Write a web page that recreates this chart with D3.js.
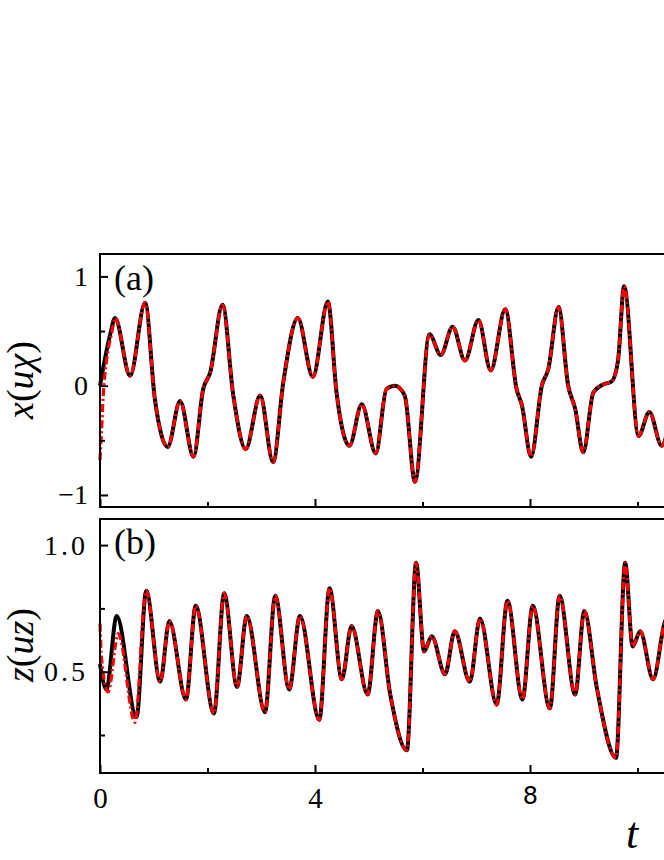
<!DOCTYPE html>
<html><head><meta charset="utf-8">
<script src="https://cdn.jsdelivr.net/npm/d3@7"></script>
<style>body{margin:0;background:#fff}svg{display:block}
text{font-family:"Liberation Serif","DejaVu Serif",serif}
.sans{font-family:"DejaVu Sans",sans-serif}</style>
</head><body>
<svg id="c" width="664" height="860"></svg>
<script>
// ---- data ----
const tX = [0, 0.09, 0.19, 0.28, 0.56, 0.84, 1.02, 1.26, 1.49, 1.74, 1.92, 2.05, 2.28, 2.48, 2.71, 2.98, 3.22, 3.41, 3.68, 3.96, 4.24, 4.40, 4.64, 4.87, 5.13, 5.33, 5.49, 5.67, 5.86, 6.13, 6.34, 6.56, 6.79, 7.04, 7.27, 7.54, 7.75, 7.85, 8.02, 8.22, 8.34, 8.53, 8.71, 8.84, 8.99, 9.18, 9.36, 9.52, 9.64, 9.75, 10.02, 10.22, 10.45, 10.6];
const xBlack = [0, 0.24, 0.47, 0.62, 0.09, 0.76, -0.12, -0.56, -0.14, -0.65, -0.03, 0.12, 0.74, -0.09, -0.58, -0.09, -0.70, 0.03, 0.62, 0.08, 0.77, -0.06, -0.55, -0.17, -0.62, -0.03, 0.0, -0.09, -0.88, 0.47, 0.28, 0.54, 0.23, 0.60, 0.14, 0.70, -0.03, -0.18, -0.65, 0.0, 0.15, 0.72, 0.0, -0.21, -0.61, -0.06, 0.01, 0.04, 0.24, 0.91, -0.46, -0.24, -0.55, -0.3];
const tXRedStart = [0, 0.03, 0.06, 0.12, 0.22];
const xRedStart = [-0.68, -0.4, -0.09, 0.22, 0.49];
const xRedJoin = 0.28;

const tZ = [0, 0.12, 0.31, 0.68, 0.86, 1.12, 1.29, 1.60, 1.78, 2.12, 2.31, 2.55, 2.73, 3.07, 3.26, 3.52, 3.72, 4.08, 4.27, 4.50, 4.68, 4.98, 5.17, 5.40, 5.71, 5.88, 6.03, 6.17, 6.42, 6.60, 6.88, 7.07, 7.38, 7.58, 7.86, 8.05, 8.37, 8.55, 8.84, 9.01, 9.24, 9.60, 9.77, 9.91, 10.05, 10.29, 10.5, 10.65];
const zBlack = [0.53, 0.43, 0.72, 0.32, 0.82, 0.46, 0.70, 0.39, 0.76, 0.335, 0.81, 0.44, 0.72, 0.34, 0.80, 0.43, 0.72, 0.31, 0.83, 0.47, 0.68, 0.41, 0.74, 0.41, 0.19, 0.93, 0.58, 0.64, 0.49, 0.66, 0.46, 0.71, 0.37, 0.78, 0.39, 0.76, 0.355, 0.80, 0.41, 0.74, 0.44, 0.16, 0.93, 0.60, 0.66, 0.47, 0.69, 0.75];
const tZRedStart = [0, 0.03, 0.15, 0.34, 0.65];
const zRedStart = [0.69, 0.55, 0.42, 0.65, 0.30];
const zRedJoin = 0.86;

const xMajorTicks = [0, 4, 8];
const xMinorTicks = [2, 6, 10];
const aMajor = [-1, 0, 1], aMinor = [-0.5, 0.5];
const bMajor = [0.5, 1.0], bMinor = [0.25, 0.75];

// ---- drawing ----
const svg = d3.select("#c");
const x = d3.scaleLinear().domain([0, 12]).range([100, 745]);
const yA = d3.scaleLinear().domain([-1.11, 1.205]).range([507, 254]);
const yB = d3.scaleLinear().domain([0.1, 1.103]).range([773, 519]);

function seriesPts(ts, vs) { return ts.map((t, i) => [t, vs[i]]); }
const blackA = seriesPts(tX, xBlack);
const redA = seriesPts(tXRedStart, xRedStart).concat(blackA.filter(d => d[0] >= xRedJoin));
const blackB = seriesPts(tZ, zBlack);
const redB = seriesPts(tZRedStart, zRedStart).concat(blackB.filter(d => d[0] >= zRedJoin));

function panel(y, major, minor, black, red, fmt, bottomLabels) {
  const [y0, y1] = y.range();
  const g = svg.append("g");
  const line = d3.line().x(d => x(d[0])).y(d => y(d[1])).curve(d3.curveMonotoneX);
  g.append("path").datum(black).attr("d", line).attr("fill", "none")
    .attr("stroke", "#000").attr("stroke-width", 4).attr("stroke-linejoin", "round");
  g.append("path").datum(red).attr("d", line).attr("fill", "none")
    .attr("stroke", "#ff0000").attr("stroke-width", 3.2)
    .attr("stroke-dasharray", "8,3,2,3");
  g.append("rect").attr("x", x(0)).attr("y", y1).attr("width", x(12) - x(0)).attr("height", y0 - y1)
    .attr("fill", "none").attr("stroke", "#000").attr("stroke-width", 2);
  const ay = g.append("g").attr("transform", `translate(${x(0)},0)`)
    .call(d3.axisLeft(y).tickValues(major).tickSize(-8).tickPadding(12).tickFormat(fmt));
  ay.select(".domain").remove();
  ay.selectAll("line").attr("stroke-width", 2);
  ay.selectAll("text").attr("font-size", 28).attr("fill", "#000");
  const ay2 = g.append("g").attr("transform", `translate(${x(0)},0)`)
    .call(d3.axisLeft(y).tickValues(minor).tickSize(-5).tickFormat(""));
  ay2.select(".domain").remove();
  ay2.selectAll("line").attr("stroke-width", 2);
  const ax = g.append("g").attr("transform", `translate(0,${y0})`)
    .call(d3.axisBottom(x).tickValues(xMajorTicks).tickSize(-8).tickPadding(14)
      .tickFormat(bottomLabels ? d3.format("d") : ""));
  ax.select(".domain").remove();
  ax.selectAll("line").attr("stroke-width", 2);
  ax.selectAll("text").attr("class", d => d === 8 ? "sans" : null)
    .attr("font-size", d => d === 8 ? 24 : 29).attr("fill", "#000");
  const ax2 = g.append("g").attr("transform", `translate(0,${y0})`)
    .call(d3.axisBottom(x).tickValues(xMinorTicks).tickSize(-5).tickFormat(""));
  ax2.select(".domain").remove();
  ax2.selectAll("line").attr("stroke-width", 2);
  g.selectAll("g").attr("font-family", null);
  return g;
}

const gA = panel(yA, aMajor, aMinor, blackA, redA, d => d < 0 ? "\u2212" + Math.abs(d) : String(d), false);
const gB = panel(yB, bMajor, bMinor, blackB, redB, d => d3.format(".1f")(d), true);
gB.selectAll("g.tick text").filter(function(){ return this.textContent.includes("."); })
  .attr("letter-spacing", 3);

svg.append("text").attr("x", 114).attr("y", 290).attr("font-size", 36).text("(a)");
svg.append("text").attr("x", 114).attr("y", 554).attr("font-size", 36).text("(b)");

function ylab(cy, main, sub) {
  const t = svg.append("text").attr("transform", `translate(33,${cy}) rotate(-90)`)
    .attr("text-anchor", "middle").attr("font-size", 38);
  t.append("tspan").attr("font-style", "italic").text(main);
  t.append("tspan").text("(");
  t.append("tspan").attr("font-style", "italic").text("u");
  t.append("tspan").attr("font-style", "italic").text(sub);
  t.append("tspan").text(")");
}
ylab(380, "x", "\u03c7");
ylab(645, "z", "z");

svg.append("text").attr("x", 626).attr("y", 848)
  .attr("font-style", "italic").attr("font-size", 44).text("t");
</script>
</body></html>
